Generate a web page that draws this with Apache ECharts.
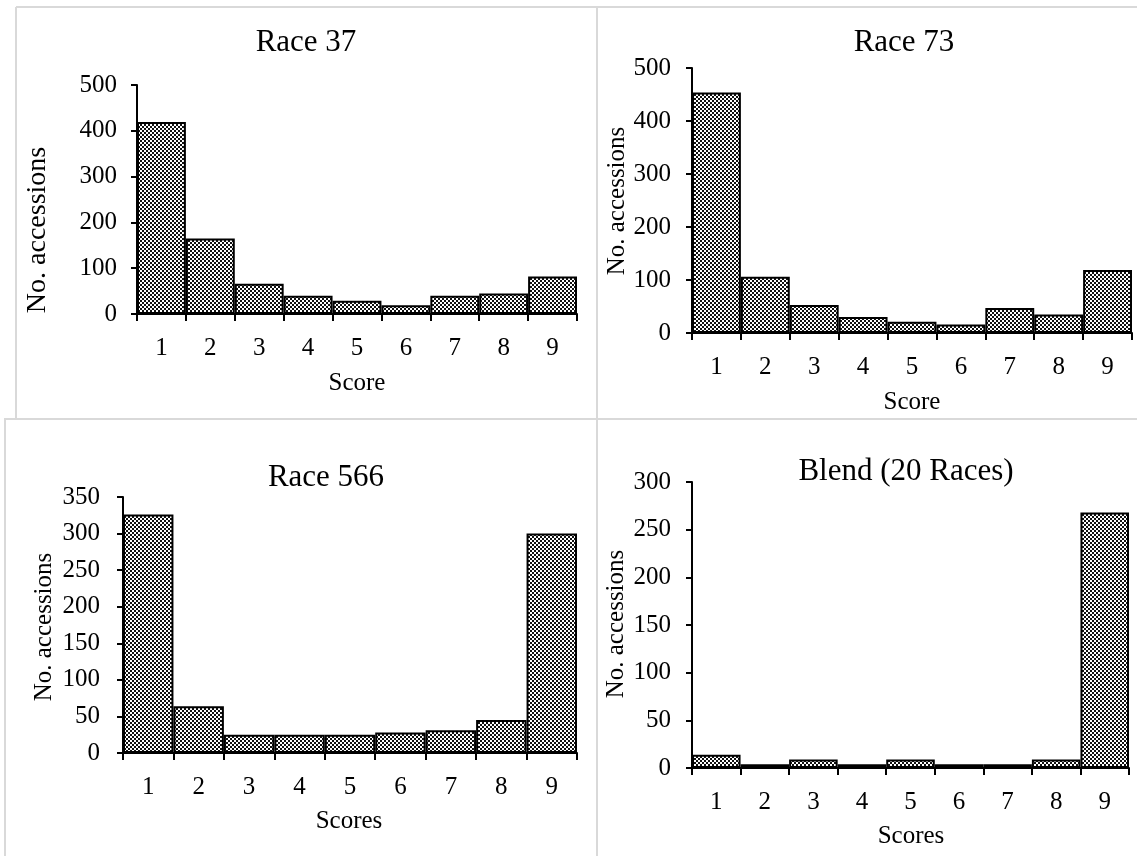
<!DOCTYPE html>
<html>
<head>
<meta charset="utf-8">
<script src="https://cdn.jsdelivr.net/npm/echarts@6/dist/echarts.min.js"></script>
<style>
  html, body { margin: 0; padding: 0; background: #ffffff; }
  #chart { width: 1137px; height: 856px; }
</style>
</head>
<body>
<div id="chart"></div>
<script>
// ---- Data ----
const scores = ['1', '2', '3', '4', '5', '6', '7', '8', '9'];
const race37 = [419, 165, 66, 40, 29, 19, 40, 45, 82];
const race73 = [454, 106, 53, 30, 21, 16, 47, 35, 119];
const race566 = [326, 64, 25, 25, 25, 28, 31, 45, 300];
const blend20 = [14, 4, 9, 4, 9, 4, 4, 9, 268];
const panelTitles = ['Race 37', 'Race 73', 'Race 566', 'Blend (20 Races)'];
const xTitles = ['Score', 'Score', 'Scores', 'Scores'];
const yTitle = 'No. accessions';
const yMax = [500, 500, 350, 300];
const yStep = [100, 100, 50, 50];

// ---- Pattern fill (small checkerboard, looks like dotted diamonds) ----
function makePattern() {
  const n = 4;
  const c = document.createElement('canvas');
  c.width = n; c.height = n;
  const ctx = c.getContext('2d');
  ctx.fillStyle = '#ffffff';
  ctx.fillRect(0, 0, n, n);
  ctx.fillStyle = '#111111';
  for (let y = 0; y < n; y++) {
    for (let x = 0; x < n; x++) {
      if ((Math.floor(x / 2) + Math.floor(y / 2)) % 2 === 0) ctx.fillRect(x, y, 1, 1);
    }
  }
  return c;
}
const pattern = { image: makePattern(), repeat: 'repeat' };

const FONT = "'Liberation Serif', 'Times New Roman', serif";
const grids = [
  { left: 137, top: 85, width: 440, height: 229 },
  { left: 692, top: 68, width: 440, height: 265 },
  { left: 123, top: 497, width: 454, height: 256 },
  { left: 692, top: 482, width: 437, height: 286 }
];
const labelMargins = [20, 21, 23, 21];
const seriesData = [race37, race73, race566, blend20];

const xAxes = grids.map((g, i) => ({
  type: 'category', gridIndex: i, data: scores,
  axisLine: { lineStyle: { color: '#000', width: 2 } },
  axisTick: { show: true, length: 7, lineStyle: { color: '#000', width: 2 } },
  axisLabel: { color: '#000', fontFamily: FONT, fontSize: 25, margin: 22 },
  splitLine: { show: false }
}));
const yAxes = grids.map((g, i) => ({
  type: 'value', gridIndex: i, min: 0, max: yMax[i], interval: yStep[i],
  axisLine: { show: true, lineStyle: { color: '#000', width: 2 } },
  axisTick: { show: true, length: 6, lineStyle: { color: '#000', width: 2 } },
  axisLabel: { color: '#000', fontFamily: FONT, fontSize: 25, margin: labelMargins[i] },
  splitLine: { show: false }
}));
const series = seriesData.map((d, i) => ({
  type: 'bar', xAxisIndex: i, yAxisIndex: i, data: d,
  barCategoryGap: '0%',
  itemStyle: { color: pattern, borderColor: '#000', borderWidth: 2 },
  silent: true
}));

// Text positions (centers)
const titlePos = [[306, 43], [904, 43], [326, 478], [906, 472]];
const xTitlePos = [[357, 383], [912, 402], [349, 821], [911, 836]];
const yTitlePos = [[38, 230], [617, 201], [44, 627], [616, 624]];
const yTitleSize = [28, 25, 25, 25];

const graphics = [];
// panel separator lines
const lineStyle = { stroke: '#d9d9d9', lineWidth: 2 };
[
  [16, 7, 1137, 7],
  [16, 7, 16, 419],
  [4, 419, 1137, 419],
  [597, 7, 597, 856],
  [5, 419, 5, 856]
].forEach(s => graphics.push({ type: 'line', silent: true, z: -1,
  shape: { x1: s[0], y1: s[1], x2: s[2], y2: s[3] }, style: lineStyle }));

for (let i = 0; i < 4; i++) {
  graphics.push({ type: 'text', x: titlePos[i][0], y: titlePos[i][1],
    style: { text: panelTitles[i], font: '31px ' + FONT, fill: '#000', textAlign: 'center', textVerticalAlign: 'middle' } });
  graphics.push({ type: 'text', x: xTitlePos[i][0], y: xTitlePos[i][1],
    style: { text: xTitles[i], font: '25px ' + FONT, fill: '#000', textAlign: 'center', textVerticalAlign: 'middle' } });
  graphics.push({ type: 'text', x: yTitlePos[i][0], y: yTitlePos[i][1], rotation: Math.PI / 2,
    style: { text: yTitle, font: yTitleSize[i] + 'px ' + FONT, fill: '#000', textAlign: 'center', textVerticalAlign: 'middle' } });
}

const chart = echarts.init(document.getElementById('chart'), null, { renderer: 'canvas' });
chart.setOption({
  animation: false,
  backgroundColor: '#ffffff',
  grid: grids,
  xAxis: xAxes,
  yAxis: yAxes,
  series: series,
  graphic: graphics
});
</script>
</body>
</html>
